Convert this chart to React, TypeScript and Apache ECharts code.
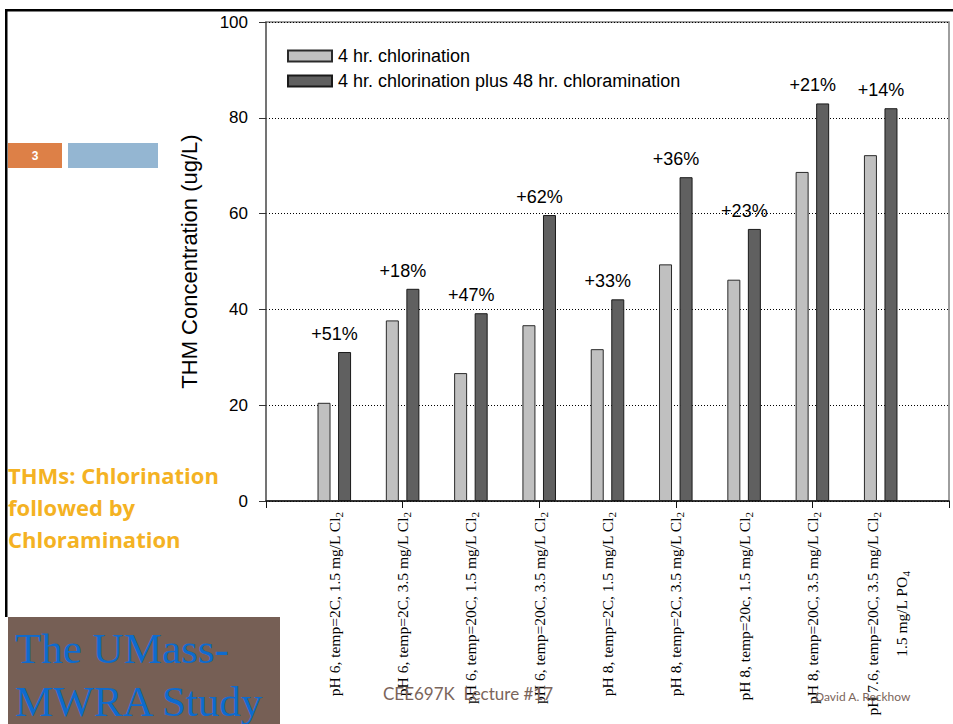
import React, { useEffect, useRef } from "react";
import * as echarts from "echarts";

// Treatment conditions (trailing digit of Cl2 / PO4 is drawn as a subscript)
const categories = [
  "pH 6, temp=2C, 1.5 mg/L Cl2",
  "pH 6, temp=2C, 3.5 mg/L Cl2",
  "pH 6, temp=20C, 1.5 mg/L Cl2",
  "pH 6, temp=20C, 3.5 mg/L Cl2",
  "pH 8, temp=2C, 1.5 mg/L Cl2",
  "pH 8, temp=2C, 3.5 mg/L Cl2",
  "pH 8, temp=20c, 1.5 mg/L Cl2",
  "pH 8, temp=20C, 3.5 mg/L Cl2",
  "pH 7.6, temp=20C, 3.5 mg/L Cl2\n1.5 mg/L PO4",
];

// THM concentration, ug/L
const chlorination = [20.5, 37.7, 26.7, 36.7, 31.7, 49.4, 46.2, 68.7, 72.2];
const chlorinationPlusChloramination = [31.1, 44.3, 39.2, 59.7, 42.1, 67.6, 56.8, 83.0, 82.0];

// Increase due to the added chloramination step
const increaseLabels = ["+51%", "+18%", "+47%", "+62%", "+33%", "+36%", "+23%", "+21%", "+14%"];

const seriesNames = ["4 hr. chlorination", "4 hr. chlorination plus 48 hr. chloramination"];

const SERIF = "'Liberation Serif', 'Times New Roman', serif";
const SANS = "'Liberation Sans', Arial, sans-serif";
const GEO = "Lato, 'Noto Sans', sans-serif";
const TITLE = "'Open Sans', 'Noto Sans', sans-serif";

// Axis positions: an empty slot on each side, conditions at 1..9
const axisSlots = ["", ...categories, ""];

function subscriptLine(line: string): string {
  const m = line.match(/^(.*[A-Za-z])(\d)$/);
  if (!m) return `{t|${line}}`;
  return `{t|${m[1]}}{s|${m[2]}}`;
}

function formatCategory(value: string): string {
  if (!value) return "";
  const lines = value.split("\n");
  if (lines.length === 1) return subscriptLine(lines[0]);
  // second line is centred under the first, with extra spacing between them
  const second = lines[1].match(/^(.*[A-Za-z])(\d)$/);
  const secondRich = second ? `{c|${second[1]}}{cs|${second[2]}}` : `{c|${lines[1]}}`;
  return ["{gap| }", subscriptLine(lines[0]), "{sp| }", secondRich].join("\n");
}

export default function App() {
  const ref = useRef<HTMLDivElement>(null);

  useEffect(() => {
    if (!ref.current) return;
    const chart = echarts.init(ref.current, undefined, { renderer: "svg" });

    chart.setOption({
      animation: false,
      backgroundColor: "#ffffff",
      grid: {
        left: 266,
        right: 4,
        top: 22,
        bottom: 223,
        show: true,
        borderColor: "#7f7f7f",
        borderWidth: 1.5,
        backgroundColor: "transparent",
      },
      legend: {
        orient: "vertical",
        left: 287,
        top: 47,
        padding: 0,
        itemWidth: 44,
        itemHeight: 11,
        itemGap: 7,
        icon: "rect",
        data: seriesNames,
        textStyle: {
          fontFamily: SANS,
          fontSize: 18,
          color: "#000",
          padding: [0, 0, 0, 1],
        },
      },
      xAxis: {
        type: "category",
        data: axisSlots,
        boundaryGap: false,
        axisLine: { lineStyle: { color: "#111", width: 1.5 } },
        axisTick: { show: true, interval: 1, length: 7, lineStyle: { color: "#111" } },
        splitLine: { show: false },
        axisLabel: {
          interval: 0,
          rotate: 90,
          margin: 11,
          color: "#000",
          formatter: formatCategory,
          rich: {
            t: { fontFamily: SERIF, fontSize: 15.5, lineHeight: 20, color: "#000" },
            s: { fontFamily: SERIF, fontSize: 11, lineHeight: 8, verticalAlign: "bottom", color: "#000" },
            c: { fontFamily: SERIF, fontSize: 15.5, lineHeight: 20, align: "center", color: "#000" },
            cs: {
              fontFamily: SERIF,
              fontSize: 11,
              lineHeight: 8,
              verticalAlign: "bottom",
              align: "center",
              color: "#000",
            },
            gap: { fontFamily: SERIF, fontSize: 8, lineHeight: 12, align: "center" },
            sp: { fontFamily: SERIF, fontSize: 8, lineHeight: 9, align: "center" },
          },
        },
      },
      yAxis: {
        type: "value",
        min: 0,
        max: 100,
        interval: 20,
        name: "THM Concentration (ug/L)",
        nameLocation: "middle",
        nameGap: 66,
        nameTextStyle: { fontFamily: SANS, fontSize: 22, color: "#000" },
        axisLine: { show: true, lineStyle: { color: "#666", width: 1.5 } },
        axisTick: { show: true, length: 7, lineStyle: { color: "#333" } },
        axisLabel: { fontFamily: SANS, fontSize: 17, color: "#000", margin: 18 },
        splitLine: { show: true, lineStyle: { color: "#000", width: 1, type: [1, 2] } },
      },
      series: [
        {
          name: seriesNames[0],
          type: "bar",
          barWidth: 13,
          barGap: "58%",
          itemStyle: { color: "#c0c0c0", borderColor: "#2a2a2a", borderWidth: 1 },
          data: chlorination.map((v, i) => [i + 1, v]),
        },
        {
          name: seriesNames[1],
          type: "bar",
          barWidth: 13,
          barGap: "58%",
          itemStyle: { color: "#606060", borderColor: "#1a1a1a", borderWidth: 1 },
          label: {
            show: true,
            position: "top",
            distance: 9,
            offset: [-10, 0],
            fontFamily: SANS,
            fontSize: 18,
            color: "#000",
            formatter: (p: any) => increaseLabels[p.dataIndex],
          },
          data: chlorinationPlusChloramination.map((v, i) => [i + 1, v]),
        },
      ],
      graphic: [
        // slide frame
        { type: "rect", z: 100, shape: { x: 7, y: 9, width: 946, height: 2.5 }, style: { fill: "#000" } },
        { type: "rect", z: 100, shape: { x: 5, y: 9, width: 2.5, height: 608 }, style: { fill: "#000" } },
        // slide number tabs
        { type: "rect", z: 100, shape: { x: 8, y: 143, width: 54, height: 25 }, style: { fill: "#DD8047" } },
        {
          type: "text",
          z: 101,
          x: 35,
          y: 155.5,
          style: {
            text: "3",
            fill: "#fff",
            font: `bold 12px ${SANS}`,
            align: "center",
            verticalAlign: "middle",
          },
        },
        { type: "rect", z: 100, shape: { x: 68, y: 143, width: 90, height: 25 }, style: { fill: "#94B6D2" } },
        // slide title
        {
          type: "text",
          z: 100,
          x: 8,
          y: 459,
          style: {
            text: "THMs: Chlorination\nfollowed by\nChloramination",
            fill: "#F4B223",
            font: `bold 22px ${TITLE}`,
            lineHeight: 32,
          },
        },
        // study banner
        { type: "rect", z: 100, shape: { x: 8, y: 617, width: 272, height: 107 }, style: { fill: "#765F55" } },
        {
          type: "text",
          z: 101,
          x: 15,
          y: 622,
          style: {
            text: "The UMass-\nMWRA Study",
            fill: "#0E6BCE",
            font: `43px ${SERIF}`,
            lineHeight: 53,
          },
        },
        // footer
        {
          type: "text",
          z: 101,
          x: 383,
          y: 693,
          style: {
            text: "CEE697K  Lecture #17",
            fill: "#7B655B",
            font: `17px ${GEO}`,
            verticalAlign: "middle",
          },
        },
        {
          type: "text",
          z: 101,
          x: 815,
          y: 696,
          style: {
            text: "David A. Reckhow",
            fill: "#7B655B",
            font: `12px ${GEO}`,
            verticalAlign: "middle",
          },
        },
      ],
    });

    return () => chart.dispose();
  }, []);

  return (
    <div
      ref={ref}
      style={{ position: "fixed", left: 0, top: 0, width: 953, height: 724, background: "#fff" }}
    />
  );
}
